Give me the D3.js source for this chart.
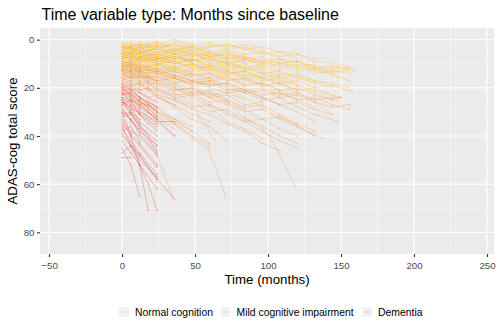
<!DOCTYPE html>
<html><head><meta charset="utf-8">
<script src="https://cdn.jsdelivr.net/npm/d3@7"></script>
<style>body{margin:0;background:#fff}svg{display:block;font-family:"Liberation Sans",Arial,sans-serif}</style>
</head><body><div id="chart"></div>
<script>
const groups = ["Normal cognition", "Mild cognitive impairment", "Dementia"];
const groupColors = ["#FFB41E", "#F5842A", "#E42A2E"];
const xTicks = [-50, 0, 50, 100, 150, 200, 250];
const yTicks = [0, 20, 40, 60, 80];
const xMinor = [-25, 25, 75, 125, 175, 225];
const yMinor = [10, 30, 50, 70];

// Each subject: [[months, ADAS-cog], ...]
const normalSubjects = [
 [[0,5],[6,3],[12,4],[24,2],[36,5],[48,3]],
 [[0,8],[6,6],[12,9],[24,7],[36,10],[48,8],[60,11],[72,9],[84,12],[96,10],[108,13]],
 [[0,3],[12,2],[24,1],[36,4],[48,3],[60,5],[72,4],[84,6],[96,5],[108,8],[120,9],[132,11],[144,12],[156,12]],
 [[0,10],[6,12],[12,9],[24,11],[36,13]],
 [[0,12],[6,10],[12,14],[24,11]],
 [[0,4],[6,6],[12,5],[24,7],[36,4],[48,6],[60,8],[72,5],[84,7]],
 [[0,7],[12,5],[24,8],[36,6],[48,9],[60,7],[72,10],[84,12],[96,11],[108,14],[120,15],[132,17],[144,18],[156,20]],
 [[0,2],[6,4],[12,3],[24,1],[36,3],[48,2],[60,4]],
 [[0,9],[6,11],[12,8],[24,10],[36,12],[48,10],[60,14],[72,13],[84,16],[96,18],[108,21],[120,24]],
 [[0,6],[6,8],[12,7],[24,9],[36,8]],
 [[0,14],[6,12],[12,15],[24,13],[36,16],[48,14]],
 [[0,5],[12,7],[24,6],[36,8],[48,5],[60,7],[72,6],[84,9],[96,8],[108,10],[120,9],[132,12],[144,13],[160,13]],
 [[0,11],[6,9],[12,10],[24,8]],
 [[0,3],[6,5],[12,2],[24,4],[36,2],[48,5],[60,3],[72,2],[84,4],[96,6],[108,5],[120,8]],
 [[0,8],[6,7],[12,10],[24,12],[36,11],[48,14],[60,16],[72,15],[84,19]],
 [[0,1],[6,3],[12,2],[24,3]],
 [[0,13],[6,15],[12,12],[24,14],[36,17],[48,15],[60,18]],
 [[0,7],[6,5],[12,6],[24,4],[36,6],[48,7],[60,6],[72,8],[84,7],[96,9],[108,11],[120,10],[132,13],[144,14],[150,16]],
 [[0,4],[6,6],[12,8],[24,5],[36,7],[48,9],[60,8],[72,11],[84,10],[96,13],[108,15]],
 [[0,10],[6,8],[12,11],[24,9],[36,12],[48,13],[60,12],[72,15]],
 [[0,6],[12,4],[24,7],[36,9],[48,8],[60,10],[72,9],[84,12],[96,14],[108,13],[120,16],[132,18],[144,20]],
 [[0,2],[6,1],[12,3],[24,2],[36,0],[48,2],[60,1],[72,3],[84,2],[96,4]],
 [[0,9],[6,7],[12,9],[24,8],[36,10],[48,9]],
 [[0,5],[6,7],[12,6],[24,8],[36,7],[48,10],[60,9],[72,12],[84,11],[96,14],[108,16],[120,15],[132,18]],
 [[0,12],[6,13],[12,11],[24,14],[36,16],[48,19],[60,22],[72,26],[84,30]],
 [[0,3],[6,4],[12,6],[24,3],[36,5],[48,4]],
 [[0,8],[6,10],[12,7],[24,9]],
 [[0,6],[6,5],[12,7],[24,6],[36,8],[48,6],[60,9],[72,7],[84,10],[96,9],[108,12],[120,11],[132,14],[144,13],[156,14]],
 [[0,11],[12,13],[24,10],[36,14],[48,12],[60,15],[72,14],[84,17],[96,19],[108,22],[120,25],[132,28]],
 [[0,4],[6,2],[12,5],[24,3],[36,6],[48,4],[60,7]],
 [[0,7],[6,9],[12,8],[24,10],[36,9],[48,12],[60,11],[72,13],[84,15],[96,14],[108,17],[120,19],[132,21],[150,24]],
 [[0,15],[6,13],[12,16],[24,14]],
 [[0,5],[6,6],[12,4],[24,7],[36,5],[48,8],[60,6],[72,9],[84,8],[96,10],[108,9],[120,12],[132,11],[144,14],[156,12]],
 [[0,9],[6,8],[12,12],[24,10],[36,13],[48,11],[60,14]],
 [[0,3],[12,5],[24,4],[36,6],[48,5],[60,7],[72,6],[84,8],[96,10]],
 [[0,10],[6,12],[12,14],[24,13],[36,16],[48,18],[60,17],[72,21],[84,24],[96,28],[108,32],[120,35]],
 [[0,6],[6,4],[12,7],[24,5],[36,8]],
 [[0,8],[6,6],[12,9],[24,7],[36,10],[48,8],[60,11],[72,10],[84,13],[96,12],[108,15],[120,14],[132,17],[144,19],[158,22]],
 [[0,2],[6,4],[12,3],[24,5],[36,4],[48,6],[60,5],[72,7],[84,6]],
 [[0,13],[6,11],[12,14],[24,16],[36,15]],
 [[0,5],[6,8],[12,6],[24,9],[36,7],[48,10],[60,12],[72,11],[84,14],[96,16],[108,19],[120,22],[132,26],[144,31]],
 [[0,7],[6,6],[12,8]],
 [[0,4],[6,5],[12,3],[24,6],[36,4],[48,7],[60,5],[72,8],[84,7],[96,9],[108,8],[120,11],[132,10]],
 [[0,11],[6,10],[12,12],[24,11],[36,14],[48,13],[60,16],[72,15],[84,18]],
 [[0,9],[12,11],[24,8],[36,12],[48,10],[60,13],[72,12],[84,15],[96,17],[108,16],[120,19],[132,22],[144,25]],
 [[0,1],[6,2],[12,1],[24,3],[36,2],[48,4],[60,3],[72,2],[84,4],[96,3],[108,5],[120,6],[132,8]],
 [[0,6],[6,9],[12,7],[24,10],[36,12]],
 [[0,14],[6,16],[12,13],[24,17],[36,19],[48,22]],
 [[0,8],[6,7],[12,9],[24,8],[36,11],[48,10],[60,12],[72,14],[84,13],[96,16],[108,18],[120,17],[132,20],[144,19],[156,21]],
 [[0,3],[6,5],[12,4],[24,2],[36,4],[48,3],[60,6],[72,5],[84,8],[96,7],[108,10],[120,9],[132,12],[144,11],[160,12]],
 [[0,10],[6,9],[12,11],[24,10],[36,9],[48,12],[60,11],[72,14],[84,13],[96,16],[108,15],[120,18]],
 [[0,5],[6,3],[12,6],[24,8],[36,7],[48,9]],
 [[0,12],[6,10],[12,13]],
 [[0,7],[12,8],[24,6],[36,9],[48,11],[60,10],[72,13],[84,16],[96,15],[108,18],[120,21],[132,20],[144,23],[150,26]],
 [[0,2],[6,3],[12,5],[24,4],[36,6]],
 [[0,4],[6,3],[12,2],[24,4],[36,1],[48,3],[60,2],[72,4],[84,3],[96,5],[108,7],[120,6],[132,9],[144,10],[156,11]],
 [[0,9],[6,10],[12,8],[24,7],[36,9],[48,6],[60,8],[72,10],[84,9]],
 [[0,6],[6,7],[12,5],[24,8],[36,6],[48,9],[60,7],[72,10],[84,8],[96,11],[108,10],[120,13],[132,12],[144,15],[156,17]]
];

const mciSubjects = [
 [[0,12],[6,14],[12,13],[18,16],[24,15],[36,18],[48,17],[60,20],[72,22],[84,21],[96,24],[108,27],[120,30],[132,34]],
 [[0,18],[6,20],[12,22],[18,25],[24,28],[36,33],[48,38]],
 [[0,15],[6,13],[12,17],[18,16],[24,19],[36,21],[48,20],[60,24],[72,23],[84,27],[96,26]],
 [[0,22],[6,24],[12,27],[18,30],[24,34],[36,40]],
 [[0,10],[6,12],[12,11],[18,13],[24,12],[36,15],[48,14],[60,17],[72,16],[84,19],[96,18],[108,21],[120,20],[132,23],[144,25],[150,24]],
 [[0,25],[6,27],[12,30],[18,33],[24,37]],
 [[0,14],[6,16],[12,15],[18,18],[24,17],[36,20],[48,23],[60,22],[72,26],[84,30],[96,29],[108,33],[120,36],[137,41]],
 [[0,20],[6,22],[12,24],[24,28],[36,35],[48,41],[59,45],[71,65]],
 [[0,11],[6,13],[12,12],[18,15],[24,14],[36,16],[48,18],[60,17],[72,20],[84,22],[96,25],[108,24],[120,28],[132,31],[148,34]],
 [[0,16],[6,18],[12,21],[18,20],[24,24],[36,27]],
 [[0,13],[6,12],[12,14],[18,16],[24,15],[36,18],[48,21],[60,24],[72,27],[84,32],[96,37],[101,40],[119,61]],
 [[0,24],[6,26],[12,25],[18,29],[24,32],[36,37]],
 [[0,9],[6,11],[12,10],[18,12],[24,14],[36,13],[48,16],[60,19],[72,18],[84,21],[96,24],[108,27],[120,26],[132,29],[144,31]],
 [[0,19],[6,21],[12,20],[18,24],[24,23],[36,28],[48,33],[60,36],[72,42]],
 [[0,17],[6,15],[12,18],[18,20],[24,22],[36,25],[48,29],[60,31],[72,35],[84,38],[96,43],[108,46]],
 [[0,21],[6,23],[12,26],[18,30],[24,33]],
 [[0,12],[6,14],[12,16],[18,15],[24,18],[36,20],[48,24],[60,28],[72,34],[84,37],[96,41]],
 [[0,27],[6,30],[12,35],[18,40],[24,48],[35,66]],
 [[0,14],[6,13],[12,15],[24,17],[36,16],[48,19],[60,18],[72,21],[84,20],[96,23],[108,22],[120,25],[132,24],[144,27],[156,29]],
 [[0,23],[6,22],[12,26],[18,28],[24,31],[36,35],[48,40],[60,44]],
 [[0,16],[6,17],[12,19],[18,18],[24,21],[36,23],[48,22],[60,26],[72,25],[84,29],[96,33],[108,32],[120,36],[132,40]],
 [[0,10],[6,9],[12,12],[18,11],[24,13],[36,12],[48,15],[60,14],[72,17],[84,16],[96,19],[108,18],[120,21]],
 [[0,20],[6,24],[12,28],[18,27],[24,31]],
 [[0,18],[6,17],[12,19],[18,21],[24,20],[36,24],[48,27],[64,42]],
 [[0,13],[6,15],[12,14],[18,17],[24,16],[36,19],[48,22],[60,21],[72,25],[84,28],[96,27],[108,31],[120,35],[132,38]],
 [[0,26],[6,28],[12,31],[18,35]],
 [[0,15],[6,16],[12,18],[18,17],[24,20],[36,22],[48,26],[60,30],[72,29],[84,33],[96,36],[108,40],[120,43]],
 [[0,11],[6,10],[12,13],[24,12],[36,15],[48,17],[60,16],[72,19],[84,22],[96,21],[108,24],[120,23],[132,26],[144,28],[156,27]],
 [[0,22],[6,21],[12,24],[18,27],[24,30],[36,34],[48,38],[60,43]],
 [[0,17],[6,19],[12,18],[18,21],[24,24],[36,27],[48,31],[60,34]],
 [[0,19],[6,18],[12,21],[18,20],[24,23],[36,25],[48,28],[60,27],[72,31],[84,34],[96,33],[108,37],[120,40]],
 [[0,14],[6,16],[12,15],[18,18],[24,21],[36,24],[48,23],[60,27],[72,30],[84,34],[96,38],[108,42],[120,45]],
 [[0,24],[6,25],[12,27],[18,26],[24,30],[36,33],[48,36]],
 [[0,16],[6,14],[12,17],[18,19],[24,18],[36,21],[48,20],[60,23],[72,22],[84,25]],
 [[0,12],[6,11],[12,13],[18,14],[24,13],[36,15],[48,17],[60,19],[72,18],[84,21],[96,20],[108,23],[120,22],[132,25],[144,24],[150,24]]
];

const dementiaSubjects = [
 [[0,22],[6,26],[12,29],[24,35]],
 [[0,30],[6,33],[12,38],[24,44]],
 [[0,18],[6,21],[12,24],[24,30]],
 [[0,35],[6,39],[12,43],[24,52]],
 [[0,27],[6,25],[12,31],[24,38]],
 [[0,40],[6,44],[12,48],[24,58]],
 [[0,25],[6,30],[12,33]],
 [[0,32],[6,31],[12,36],[24,42]],
 [[0,20],[6,24],[12,27],[24,33]],
 [[0,49],[6,49]],
 [[0,37],[6,42],[12,47],[24,56]],
 [[0,28],[6,34],[12,37],[24,46]],
 [[0,23],[6,22],[12,26],[24,29]],
 [[0,45],[6,52],[12,65]],
 [[0,33],[6,38],[12,40],[24,48]],
 [[0,19],[6,23],[12,25],[24,32]],
 [[0,26],[6,28],[12,34],[24,40]],
 [[0,38],[6,36],[12,42]],
 [[0,29],[6,33],[12,39],[24,47]],
 [[0,24],[6,27],[12,31],[24,36]],
 [[0,42],[6,47],[12,52],[24,62]],
 [[0,21],[6,20],[12,24],[24,28]],
 [[0,34],[6,40],[12,44],[24,53]],
 [[0,31],[6,30],[12,35]],
 [[0,26],[6,31],[12,36],[24,44]],
 [[0,36],[6,44],[12,52],[18,60],[24,71]],
 [[0,30],[6,40],[12,52],[18,71]],
 [[0,39],[12,48],[24,58],[36,66]],
 [[0,20],[6,19],[12,22],[24,26]],
 [[0,47],[6,44],[12,50],[24,57]],
 [[0,25],[6,29],[12,30],[24,34],[36,34]],
 [[0,22],[6,25],[12,28],[24,33],[36,40]]
];

const W = 500, H = 333;
const svg = d3.select("#chart").append("svg").attr("width", W).attr("height", H);
const pl = 40, pr = 494, pt = 28, pb = 254;
const x = d3.scaleLinear().domain([-56.2, 254.8]).range([pl, pr]);
const y = d3.scaleLinear().domain([-4.85, 89]).range([pt, pb]);

svg.append("rect").attr("x", pl).attr("y", pt).attr("width", pr - pl).attr("height", pb - pt).attr("fill", "#EBEBEB");
const grid = svg.append("g");
grid.selectAll(".xm").data(xMinor).join("line").attr("x1", d => x(d)).attr("x2", d => x(d)).attr("y1", pt).attr("y2", pb).attr("stroke", "#fff").attr("stroke-width", 0.55);
grid.selectAll(".ym").data(yMinor).join("line").attr("y1", d => y(d)).attr("y2", d => y(d)).attr("x1", pl).attr("x2", pr).attr("stroke", "#fff").attr("stroke-width", 0.55);
grid.selectAll(".xM").data(xTicks).join("line").attr("x1", d => x(d)).attr("x2", d => x(d)).attr("y1", pt).attr("y2", pb).attr("stroke", "#fff").attr("stroke-width", 1.1);
grid.selectAll(".yM").data(yTicks).join("line").attr("y1", d => y(d)).attr("y2", d => y(d)).attr("x1", pl).attr("x2", pr).attr("stroke", "#fff").attr("stroke-width", 1.1);

const line = d3.line().x(d => x(d[0])).y(d => y(d[1]));
const all = [normalSubjects, mciSubjects, dementiaSubjects];
const marks = svg.append("g");
all.forEach((subs, gi) => {
  const g = marks.append("g");
  g.selectAll("path").data(subs).join("path").attr("d", line)
    .attr("fill", "none").attr("stroke", groupColors[gi]).attr("stroke-opacity", 0.3).attr("stroke-width", 1);
  g.selectAll("circle").data(subs.flat()).join("circle")
    .attr("cx", d => x(d[0])).attr("cy", d => y(d[1])).attr("r", 0.65)
    .attr("fill", groupColors[gi]).attr("fill-opacity", 0.45);
});

const xa = svg.append("g").attr("transform", `translate(0,${pb})`)
  .call(d3.axisBottom(x).tickValues(xTicks).tickSize(3).tickPadding(5));
const ya = svg.append("g").attr("transform", `translate(${pl},0)`)
  .call(d3.axisLeft(y).tickValues(yTicks).tickSize(3).tickPadding(2.5));
[xa, ya].forEach(a => {
  a.select(".domain").remove();
  a.selectAll(".tick line").attr("stroke", "#333").attr("stroke-width", 1.1);
  a.selectAll(".tick text").attr("fill", "#4D4D4D").attr("font-size", "9.7px").attr("font-family", '"Liberation Sans",Arial,sans-serif');
});

svg.append("text").attr("x", 41.5).attr("y", 19.5).attr("font-size", "16px").attr("fill", "#000")
  .text("Time variable type: Months since baseline");
svg.append("text").attr("x", (pl + pr) / 2).attr("y", 284).attr("text-anchor", "middle").attr("font-size", "13.3px").attr("fill", "#000")
  .text("Time (months)");
svg.append("text").attr("transform", `translate(17,${(pt + pb) / 2}) rotate(-90)`).attr("text-anchor", "middle").attr("font-size", "13.3px").attr("fill", "#000")
  .text("ADAS-cog total score");

const legX = [119, 220.5, 362];
const leg = svg.append("g");
groups.forEach((name, i) => {
  const g = leg.append("g").attr("transform", `translate(${legX[i]},307)`);
  g.append("rect").attr("width", 10).attr("height", 10).attr("fill", "#F2F2F2");
  g.append("line").attr("x1", 3).attr("x2", 7).attr("y1", 5).attr("y2", 5).attr("stroke", groupColors[i]).attr("stroke-opacity", 0.35).attr("stroke-width", 0.8);
  g.append("text").attr("x", 16).attr("y", 9).attr("font-size", "10.4px").attr("fill", "#000").text(name);
});
</script></body></html>
